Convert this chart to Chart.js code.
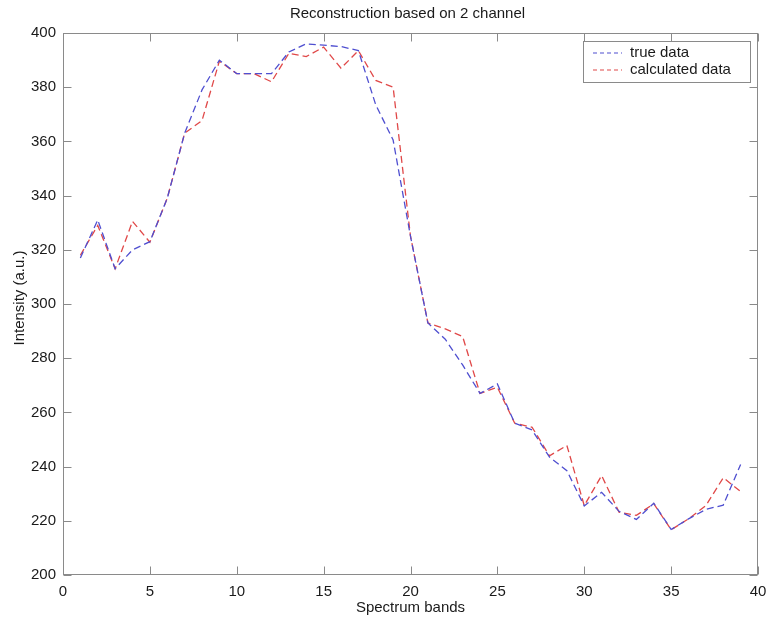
<!DOCTYPE html>
<html>
<head>
<meta charset="utf-8">
<script src="https://cdn.jsdelivr.net/npm/chart.js@4/dist/chart.umd.min.js"></script>
<style>
html,body{margin:0;padding:0;background:#fff;}
#wrap{width:767px;height:628px;position:relative;}
</style>
</head>
<body>
<div id="wrap"><canvas id="c"></canvas></div>
<script>
// ---- data ----
const bands = [1,2,3,4,5,6,7,8,9,10,11,12,13,14,15,16,17,18,19,20,21,22,23,24,25,26,27,28,29,30,31,32,33,34,35,36,37,38,39];
const trueData = [317,331,313,320,323,339,363,379,390,385,385,385,393,396,395.5,395,393.5,373.5,360.5,325,293,287,277.5,267,270.5,256,253.5,243.5,238.5,225.5,230.5,223.5,220.5,226.5,216.8,220.7,224.2,225.8,240.8];
const calcData = [318,329,313,330.5,322.8,339,363,367.7,389.6,385,385,382,392.5,391.3,394.8,387,393.5,382.5,380,325,293,290.8,288,267,269.3,256,254.5,244,247.8,225.6,236.7,223.2,222,226.3,216.7,220.7,225.6,235.9,230.8];
const xTicks = [0,5,10,15,20,25,30,35,40];
const yTicks = [200,220,240,260,280,300,320,340,360,380,400];
const seriesNames = ['true data','calculated data'];
const titleText = 'Reconstruction based on 2 channel';
const xLabel = 'Spectrum bands';
const yLabel = 'Intensity (a.u.)';

const FONT = "'Liberation Sans', Arial, Helvetica, sans-serif";
const axisColor = '#8a8a8a';
const textColor = '#1a1a1a';
const colors = ['#4f4fd0', '#e04848'];
const dash = [7, 4];

const boxPlugin = {
  id: 'boxPlugin',
  afterDraw(chart) {
    const ctx = chart.ctx;
    const a = chart.chartArea;
    const xs = chart.scales.x, ys = chart.scales.y;
    const L = Math.round(a.left) + 0.5, R = Math.round(a.right) - 0.5;
    const T = Math.round(a.top) + 0.5, B = Math.round(a.bottom) - 0.5;
    ctx.save();
    ctx.strokeStyle = axisColor;
    ctx.lineWidth = 1;
    ctx.strokeRect(L, T, R - L, B - T);
    const tl = 8;
    ctx.beginPath();
    xTicks.forEach(v => {
      const px = Math.round(xs.getPixelForValue(v)) + 0.5;
      ctx.moveTo(px, B); ctx.lineTo(px, B - tl);
      ctx.moveTo(px, T); ctx.lineTo(px, T + tl);
    });
    yTicks.forEach(v => {
      const py = Math.round(ys.getPixelForValue(v)) + 0.5;
      ctx.moveTo(L, py); ctx.lineTo(L + tl, py);
      ctx.moveTo(R, py); ctx.lineTo(R - tl, py);
    });
    ctx.stroke();

    // title and axis labels
    ctx.fillStyle = textColor;
    ctx.textAlign = 'center';
    ctx.textBaseline = 'middle';
    ctx.font = '15px ' + FONT;
    ctx.fillText(titleText, (a.left + a.right) / 2 - 3, 14);
    ctx.fillText(xLabel, (a.left + a.right) / 2, 608);
    ctx.save();
    ctx.translate(20, 298);
    ctx.rotate(-Math.PI / 2);
    ctx.fillText(yLabel, 0, 0);
    ctx.restore();

    // legend
    const lx = 583, ly = 41, lw = 167, lh = 41;
    ctx.fillStyle = '#fff';
    ctx.fillRect(lx, ly, lw, lh);
    ctx.strokeStyle = axisColor;
    ctx.strokeRect(lx + 0.5, ly + 0.5, lw, lh);
    ctx.font = '15px ' + FONT;
    ctx.textAlign = 'left';
    chart.data.datasets.forEach((ds, i) => {
      const yy = ly + 12 + i * 17;
      ctx.strokeStyle = ds.borderColor;
      ctx.lineWidth = 1.2;
      ctx.setLineDash([4, 3]);
      ctx.beginPath();
      ctx.moveTo(lx + 10, yy); ctx.lineTo(lx + 39, yy);
      ctx.stroke();
      ctx.setLineDash([]);
      ctx.fillStyle = textColor;
      ctx.fillText(ds.label, lx + 47, yy);
    });
    ctx.restore();
  }
};

new Chart(document.getElementById('c'), {
  type: 'line',
  data: {
    datasets: [
      { label: seriesNames[0], data: bands.map((b, i) => ({x: b, y: trueData[i]})),
        borderColor: colors[0], borderWidth: 1.3, borderDash: dash, pointRadius: 0, fill: false, tension: 0 },
      { label: seriesNames[1], data: bands.map((b, i) => ({x: b, y: calcData[i]})),
        borderColor: colors[1], borderWidth: 1.3, borderDash: dash, pointRadius: 0, fill: false, tension: 0 }
    ]
  },
  options: {
    responsive: true,
    maintainAspectRatio: false,
    animation: false,
    devicePixelRatio: 1,
    layout: { padding: { top: 33, right: 9, left: 0, bottom: 0 } },
    plugins: { legend: { display: false }, title: { display: false }, tooltip: { enabled: false } },
    scales: {
      x: {
        type: 'linear', min: 0, max: 40,
        afterFit(s) { s.height = 53; s.paddingLeft = 0; s.paddingRight = 0; },
        afterBuildTicks(s) { s.ticks = xTicks.map(v => ({value: v})); },
        grid: { display: false, drawTicks: false },
        border: { display: false },
        ticks: { color: textColor, font: { size: 15, family: FONT }, padding: 8, maxRotation: 0 }
      },
      y: {
        type: 'linear', min: 200, max: 400,
        afterFit(s) { s.width = 63; s.paddingTop = 0; s.paddingBottom = 0; },
        afterBuildTicks(s) { s.ticks = yTicks.map(v => ({value: v})); },
        grid: { display: false, drawTicks: false },
        border: { display: false },
        ticks: { color: textColor, font: { size: 15, family: FONT }, padding: 7 }
      }
    }
  },
  plugins: [boxPlugin]
});
</script>
</body>
</html>
